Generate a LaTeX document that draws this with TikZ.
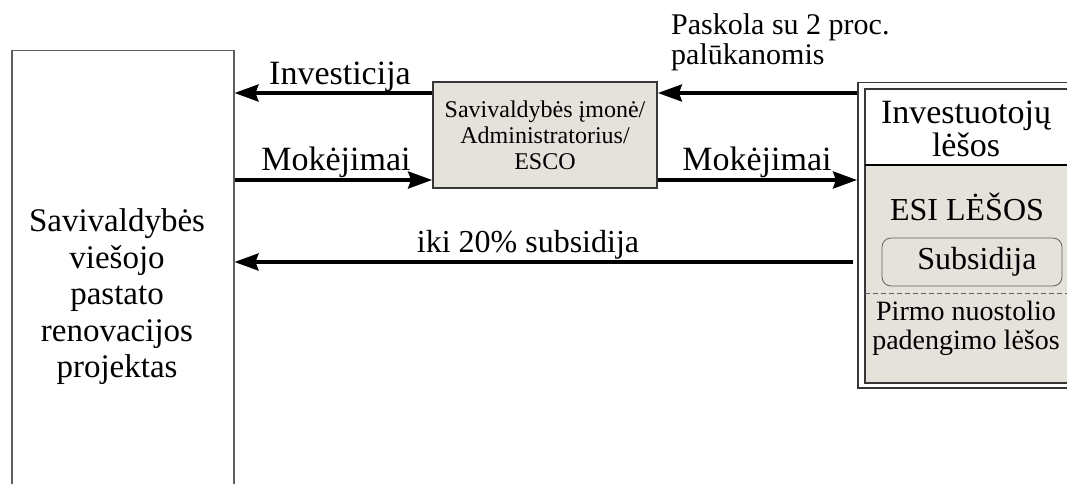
\documentclass[tikz,border=0pt]{standalone}
\usepackage{fontspec}
\setmainfont{Liberation Serif}
\usetikzlibrary{arrows.meta}
\definecolor{panel}{RGB}{229,226,220}
\definecolor{edge}{RGB}{55,55,55}
\definecolor{softedge}{RGB}{95,95,95}

\begin{document}
\begin{tikzpicture}[x=1pt,y=-1pt,
  flow/.style={line width=3.5pt,-{Stealth[length=24pt,width=17pt,inset=3pt]}},
  lbl/.style={inner sep=0pt,anchor=base,font=\fontsize{34}{36}\selectfont},
  boxtext/.style={align=center,inner sep=0pt}]
\useasboundingbox (0,0) rectangle (1067,484);

% building renovation project (runs past the lower edge)
\node[draw=softedge,line width=1.5pt,minimum width=222pt,minimum height=494pt,
      inner sep=0pt,anchor=north west] (proj) at (11,50) {};
\node[boxtext,font=\fontsize{33}{36.5}\selectfont] (projtxt) at (117,297)
  {Savivaldybės\\viešojo\\pastato\\renovacijos\\projektas};

% municipal company / administrator / ESCO
\node[draw=edge,fill=panel,line width=1.8pt,minimum width=224pt,minimum height=106pt,
      inner sep=0pt,align=center,font=\fontsize{24}{26}\selectfont] (mid) at (545,135)
  {Savivaldybės įmonė/\\Administratorius/\\ESCO};

% fund (runs past the right edge)
\node[draw=edge,fill=white,line width=1.5pt,minimum width=230pt,minimum height=305pt,
      inner sep=0pt,anchor=north west] (fund) at (857,82) {};
\fill[panel] (865,165) rectangle (1085,383);
\draw[edge,line width=1.5pt] (865,89) rectangle (1085,383);
\draw[black,line width=2.5pt] (865,165) -- (1085,165);
\draw[softedge,line width=0.8pt,dash pattern=on 5pt off 3pt] (865,293) -- (1085,293);

\node[boxtext,font=\fontsize{34}{33}\selectfont] (invest) at (966,129)
  {Investuotojų\\lėšos};
\node[boxtext,font=\fontsize{32}{34}\selectfont] (esi) at (967,207) {ESI LĖŠOS};
\node[draw=softedge,line width=0.8pt,rounded corners=9pt,fill=panel,
      minimum width=180pt,minimum height=48pt,inner sep=0pt,
      font=\fontsize{32}{34}\selectfont] (subs) at (972,262) {\hspace{10pt}Subsidija};
\node[boxtext,font=\fontsize{28}{29}\selectfont] (flp) at (966,328)
  {Pirmo nuostolio\\padengimo lėšos};

% connector rows
\coordinate (r1) at (0,93);
\coordinate (r2) at (0,180);
\coordinate (r3) at (0,262);

\draw[flow] (mid.west |- r1) -- (proj.east |- r1);
\draw[flow] (proj.east |- r2) -- (mid.west |- r2);
\draw[flow] (fund.west |- r1) -- (mid.east |- r1);
\draw[flow] (mid.east |- r2) -- (fund.west |- r2);
\draw[flow] ([xshift=-4pt]fund.west |- r3) -- (proj.east |- r3);

% connector labels
\node[lbl] (l1) at (340,85) {Investicija};
\node[lbl] (l2) at (336,170) {Mokėjimai};
\node[lbl] (l3) at (757,170) {Mokėjimai};
\node[lbl,font=\fontsize{32}{34}\selectfont] (l4) at (528,252) {iki 20\% subsidija};
\node[lbl,anchor=base west,font=\fontsize{30}{32}\selectfont] (l5) at (671,35) {Paskola su 2 proc.};
\node[lbl,anchor=base west,font=\fontsize{30}{32}\selectfont] (l6) at (671,65) {palūkanomis};
\end{tikzpicture}
\end{document}
